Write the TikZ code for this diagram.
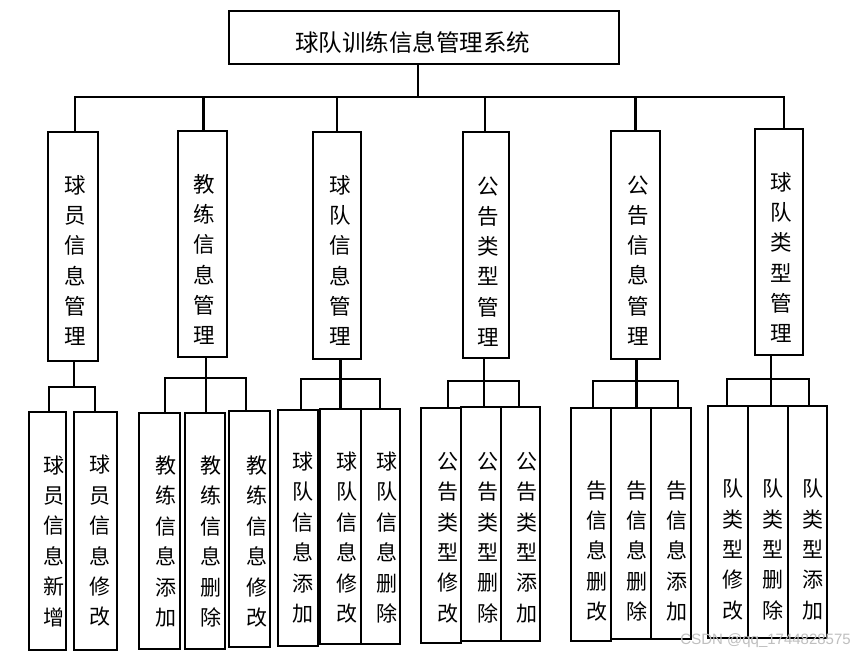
\documentclass[tikz,border=0pt]{standalone}
\usepackage{fontspec}
\newfontfamily\cjk{Noto Sans CJK SC}
\newfontfamily\wmfont{Liberation Sans}
\newcommand\mybox[5]{\node[box, minimum width={(#3-#2)*1pt}, minimum height={(#5-#4)*1pt}] (#1) at ({(#2+#3)/2},{(#4+#5)/2}) {};}
\begin{document}
\begin{tikzpicture}[x=1pt,y=-1pt,
  box/.style={draw, line width=2.8pt, inner sep=0pt, outer sep=0pt},
  vt/.style={align=center, inner sep=0pt, font=\cjk\fontsize{21}{30.4}\selectfont},
  vtb/.style={align=center, inner sep=0pt, font=\cjk\fontsize{21.5}{30.2}\selectfont},
  ttl/.style={inner sep=0pt, font=\cjk\fontsize{23.5}{26}\selectfont},
  ln/.style={line width=2.6pt}]
\useasboundingbox (0,0) rectangle (854,658);
\fill[white] (0,0) rectangle (854,658);

% title
\mybox{T}{229}{619}{11}{64}
\node[ttl] (tT) at (412.5,42) {球队训练信息管理系统};

% level 2
\mybox{A1}{48}{98}{132}{361}
\mybox{A2}{178}{227}{131}{357}
\mybox{A3}{313}{361}{132}{359}
\mybox{A4}{463}{509}{132}{358}
\mybox{A5}{611}{660}{131}{359}
\mybox{A6}{755}{803}{129}{355}
\node[vtb] (tA1) at (75,260.5) {球\\员\\信\\息\\管\\理};
\node[vtb] (tA2) at (204,259.5) {教\\练\\信\\息\\管\\理};
\node[vtb] (tA3) at (340,260.5) {球\\队\\信\\息\\管\\理};
\node[vtb] (tA4) at (488,261.5) {公\\告\\类\\型\\管\\理};
\node[vtb] (tA5) at (638,260.5) {公\\告\\信\\息\\管\\理};
\node[vtb] (tA6) at (781,257.5) {球\\队\\类\\型\\管\\理};

% level 3
\mybox{B11}{29}{66}{412}{650}
\mybox{B12}{74}{117}{412}{650}
\mybox{B21}{139}{180}{413}{649}
\mybox{B22}{185}{225}{413}{649}
\mybox{B23}{229}{270}{411}{647}
\mybox{B31}{278}{318}{410}{646}
\mybox{B32}{320}{361}{409}{644}
\mybox{B33}{361}{400}{409}{644}
\mybox{B41}{421}{461}{408}{643}
\mybox{B42}{461}{501}{407}{641}
\mybox{B43}{501}{540}{407}{641}
\mybox{B51}{571}{611}{408}{641}
\mybox{B52}{611}{651}{408}{639}
\mybox{B53}{651}{691}{408}{639}
\mybox{B61}{708}{748}{406}{638}
\mybox{B62}{748}{788}{406}{638}
\mybox{B63}{788}{827}{406}{638}

\node[vt] (tB11) at (54,541) {球\\员\\信\\息\\新\\增};
\node[vt] (tB12) at (100,541) {球\\员\\信\\息\\修\\改};
\node[vt] (tB21) at (166,541.5) {教\\练\\信\\息\\添\\加};
\node[vt] (tB22) at (211,541.5) {教\\练\\信\\息\\删\\除};
\node[vt] (tB23) at (257,541.5) {教\\练\\信\\息\\修\\改};
\node[vt] (tB31) at (303,537.5) {球\\队\\信\\息\\添\\加};
\node[vt] (tB32) at (347,537.5) {球\\队\\信\\息\\修\\改};
\node[vt] (tB33) at (387,537.5) {球\\队\\信\\息\\删\\除};
\node[vt] (tB41) at (448,537.5) {公\\告\\类\\型\\修\\改};
\node[vt] (tB42) at (488,537.5) {公\\告\\类\\型\\删\\除};
\node[vt] (tB43) at (527,537.5) {公\\告\\类\\型\\添\\加};
\node[vt] (tB51) at (597,551) {告\\信\\息\\删\\改};
\node[vt] (tB52) at (637,551) {告\\信\\息\\删\\除};
\node[vt] (tB53) at (677,551) {告\\信\\息\\添\\加};
\node[vt] (tB61) at (733,549.5) {队\\类\\型\\修\\改};
\node[vt] (tB62) at (773,549.5) {队\\类\\型\\删\\除};
\node[vt] (tB63) at (813,549.5) {队\\类\\型\\添\\加};

% connectors: title to level 2
\coordinate (bus) at (0,97);
\draw[ln] ([xshift=-6pt]T.south) -- ([xshift=-6pt]T.south |- bus);
\draw[ln] ([xshift=2pt]A1.north) -- ([xshift=2pt]A1.north |- bus) -- ([xshift=5pt]A6.north |- bus) -- ([xshift=5pt]A6.north);
\draw[ln] ([xshift=1pt]A2.north) -- ([xshift=1pt]A2.north |- bus);
\draw[ln] (A3.north) -- (A3.north |- bus);
\draw[ln] ([xshift=-1pt]A4.north) -- ([xshift=-1pt]A4.north |- bus);
\draw[ln] (A5.north) -- (A5.north |- bus);

% level 2 to level 3
\coordinate (h1l) at (49,387);  \coordinate (h1r) at (95,387);
\draw[ln] ([xshift=1pt]A1.south) -- ([xshift=1pt]A1.south |- h1l);
\draw[ln] (B11.north -| h1l) -- (h1l) -- (h1r) -- (B12.north -| h1r);

\coordinate (h2l) at (165,378);  \coordinate (h2r) at (246,378);
\draw[ln] ([xshift=1pt]B22.north |- A2.south) -- ([xshift=1pt]B22.north);
\draw[line width=1.8pt] (B21.north -| h2l) -- (h2l) -- (h2r) -- (B23.north -| h2r);

\coordinate (h3l) at (301,379);  \coordinate (h3r) at (380,379);
\draw[ln] (B32.north |- A3.south) -- (B32.north);
\draw[ln] (B31.north -| h3l) -- (h3l) -- (h3r) -- (B33.north -| h3r);

\coordinate (h4l) at (448,381);  \coordinate (h4r) at (519,381);
\draw[ln] ([xshift=3pt]B42.north |- A4.south) -- ([xshift=3pt]B42.north);
\draw[ln] (B41.north -| h4l) -- (h4l) -- (h4r) -- (B43.north -| h4r);

\coordinate (h5l) at (593,381);  \coordinate (h5r) at (678,381);
\draw[ln] ([xshift=1pt]A5.south) -- ([xshift=1pt]A5.south |- B52.north);
\draw[ln] (B51.north -| h5l) -- (h5l) -- (h5r) -- (B53.north -| h5r);

\coordinate (h6l) at (727,379);  \coordinate (h6r) at (809,379);
\draw[ln] ([xshift=3pt]B62.north |- A6.south) -- ([xshift=3pt]B62.north);
\draw[ln] (B61.north -| h6l) -- (h6l) -- (h6r) -- (B63.north -| h6r);

% watermark
\node[anchor=east, inner sep=0pt, text=black!25, font=\wmfont\fontsize{15}{16}\selectfont] (wm) at (851,641) {CSDN @qq\_1744828575};
\end{tikzpicture}
\end{document}
